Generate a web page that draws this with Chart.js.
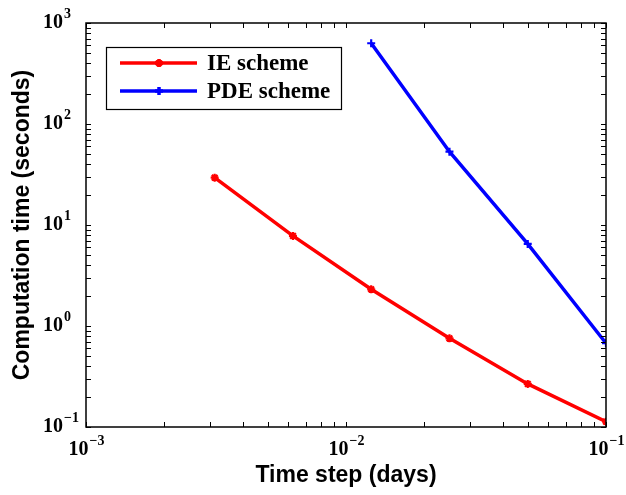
<!DOCTYPE html>
<html lang="en">
<head>
  <meta charset="utf-8">
  <title>Computation time vs time step</title>
  <style type="text/css">
    body {
      margin: 0;
      background-color: #ffffff;
    }
    #wrap {
      width: 626px;
      height: 495px;
    }
  </style>
  <script src="https://cdn.jsdelivr.net/npm/chart.js@4.4.1/dist/chart.umd.min.js"></script>
</head>
<body>
  <div id="wrap"><canvas id="graph" width="626" height="495"></canvas></div>
  <script>
    // time steps (days) and run times (seconds)
    const ieSteps = [0.003125, 0.00625, 0.0125, 0.025, 0.05, 0.1];
    const ieTimes = [29.4, 7.8, 2.31, 0.755, 0.267, 0.113];
    const pdeSteps = [0.0125, 0.025, 0.05, 0.1];
    const pdeTimes = [630, 53.2, 6.5, 0.675];
    const xDecades = [-3, -2, -1];
    const yDecades = [-1, 0, 1, 2, 3];

    const serif = '"Liberation Serif", "Times New Roman", serif';
    const sans = '"Liberation Sans", Arial, sans-serif';

    function toPoints(xs, ys) {
      var pts = [];
      for (var i = 0; i < xs.length; i++) {
        pts.push({ x: xs[i], y: ys[i] });
      }
      return pts;
    }

    // minor + major tick values for a log axis
    function logTicks(decades) {
      var out = [];
      for (var i = 0; i < decades.length; i++) {
        var base = Math.pow(10, decades[i]);
        out.push({ v: base, major: true });
        if (i < decades.length - 1) {
          for (var k = 2; k <= 9; k++) out.push({ v: base * k, major: false });
        }
      }
      return out;
    }

    function drawPow(ctx, exp, x, y, mode) {
      var e = exp < 0 ? '\u2212' + (-exp) : String(exp);
      ctx.font = 'bold 20px ' + serif;
      var w10 = ctx.measureText('10').width;
      ctx.font = 'bold 14px ' + serif;
      var we = ctx.measureText(e).width;
      var x0 = mode === 'center' ? x - (w10 + we) / 2 : x;
      ctx.textAlign = 'left';
      ctx.textBaseline = 'middle';
      ctx.font = 'bold 20px ' + serif;
      ctx.fillText('10', x0, y);
      ctx.font = 'bold 14px ' + serif;
      ctx.fillText(e, x0 + w10 + 1, y - 9);
    }

    const frame = {
      id: 'frame',
      afterDatasetsDraw: function (chart) {
        var ctx = chart.ctx;
        var a = chart.chartArea;
        var xs = chart.scales.x;
        var ys = chart.scales.y;
        ctx.save();
        ctx.fillStyle = '#000';
        ctx.strokeStyle = '#000';

        // inward ticks on all four sides
        ctx.lineWidth = 1;
        ctx.beginPath();
        logTicks(xDecades).forEach(function (t) {
          var px = Math.round(xs.getPixelForValue(t.v)) + 0.5;
          ctx.moveTo(px, a.bottom); ctx.lineTo(px, a.bottom - 5);
          ctx.moveTo(px, a.top); ctx.lineTo(px, a.top + 5);
        });
        logTicks(yDecades).forEach(function (t) {
          var py = Math.round(ys.getPixelForValue(t.v)) + 0.5;
          ctx.moveTo(a.left, py); ctx.lineTo(a.left + 5, py);
          ctx.moveTo(a.right, py); ctx.lineTo(a.right - 5, py);
        });
        ctx.stroke();

        ctx.lineWidth = 1.5;
        ctx.strokeRect(a.left, a.top, a.right - a.left, a.bottom - a.top);

        // tick labels
        xDecades.forEach(function (d) {
          drawPow(ctx, d, xs.getPixelForValue(Math.pow(10, d)), 450, 'center');
        });
        yDecades.forEach(function (d) {
          drawPow(ctx, d, 43, ys.getPixelForValue(Math.pow(10, d)), 'left');
        });

        // axis titles
        ctx.font = 'bold 23px ' + sans;
        ctx.textAlign = 'center';
        ctx.textBaseline = 'middle';
        ctx.fillText('Time step (days)', (a.left + a.right) / 2, 476);
        ctx.save();
        ctx.translate(23, (a.top + a.bottom) / 2);
        ctx.rotate(-Math.PI / 2);
        ctx.fillText('Computation time (seconds)', 0, 0);
        ctx.restore();

        // legend box
        ctx.fillStyle = '#fff';
        ctx.fillRect(106, 47, 235, 62);
        ctx.lineWidth = 1.2;
        ctx.strokeRect(106.5, 47.5, 235, 62);
        var rows = [63, 91];
        chart.data.datasets.forEach(function (ds, i) {
          var y = rows[i];
          ctx.strokeStyle = ds.borderColor;
          ctx.lineWidth = ds.borderWidth;
          ctx.beginPath();
          ctx.moveTo(120, y); ctx.lineTo(197, y);
          ctx.stroke();
          ctx.fillStyle = ds.borderColor;
          Chart.helpers.drawPoint(ctx, {
            pointStyle: ds.pointStyle,
            radius: ds.pointRadius,
            borderWidth: ds.pointBorderWidth,
            rotation: 0
          }, 159, y);
          ctx.fillStyle = '#000';
          ctx.font = 'bold 23px ' + serif;
          ctx.textAlign = 'left';
          ctx.textBaseline = 'middle';
          ctx.fillText(ds.label, 207, y + 1);
        });
        ctx.restore();
      }
    };

    var ctx = document.getElementById('graph').getContext('2d');
    window.myChart = new Chart(ctx, {
      type: 'line',
      data: {
        datasets: [
          {
            label: 'IE scheme',
            data: toPoints(ieSteps, ieTimes),
            borderColor: '#ff0000',
            backgroundColor: '#ff0000',
            borderWidth: 3.5,
            pointStyle: 'star',
            pointRadius: 4,
            pointBorderWidth: 2.2
          },
          {
            label: 'PDE scheme',
            data: toPoints(pdeSteps, pdeTimes),
            borderColor: '#0000ff',
            backgroundColor: '#0000ff',
            borderWidth: 3.5,
            pointStyle: 'cross',
            pointRadius: 4,
            pointBorderWidth: 2.2
          }
        ]
      },
      options: {
        responsive: false,
        animation: false,
        layout: { padding: { top: 23, right: 20, left: 0, bottom: 0 } },
        plugins: {
          legend: { display: false },
          tooltip: { enabled: false }
        },
        scales: {
          x: {
            type: 'logarithmic',
            min: 0.001,
            max: 0.1,
            grid: { display: false },
            border: { display: false },
            ticks: { display: false },
            afterFit: function (s) { s.height = 68; }
          },
          y: {
            type: 'logarithmic',
            min: 0.1,
            max: 1000,
            grid: { display: false },
            border: { display: false },
            ticks: { display: false },
            afterFit: function (s) { s.width = 86; }
          }
        }
      },
      plugins: [frame]
    });
  </script>
</body>
</html>
